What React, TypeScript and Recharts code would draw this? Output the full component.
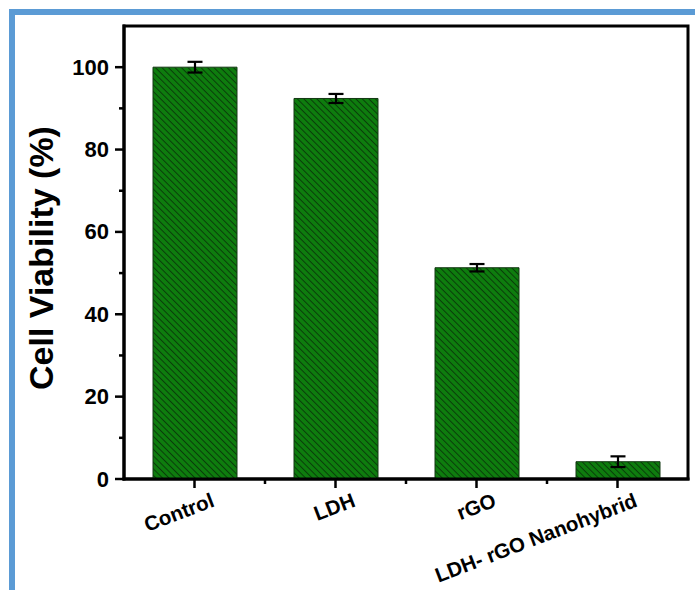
import React from 'react';
import { BarChart, Bar, XAxis, YAxis, ErrorBar, ReferenceArea } from 'recharts';

// Samples, mean viability (%) and standard deviation
const samples = ['Control', 'LDH', 'rGO', 'LDH- rGO Nanohybrid'];
const viability = [100, 92.4, 51.3, 4.2];
const viabilityError = [1.3, 1.1, 0.9, 1.3];

// Y axis: major ticks are labelled, minor ticks sit between them
const yTicks = [0, 10, 20, 30, 40, 50, 60, 70, 80, 90, 100];
const yMajorStep = 20;
const yDomain = [0, 110];

const data = samples.map((name, i) => ({
  name,
  value: viability[i],
  err: viabilityError[i],
}));

const W = 695;
const H = 590;
const Y_AXIS_W = 60;
const X_AXIS_H = 60;
const margin = { top: 26, right: 7, bottom: 51, left: 64 };
const plotW = W - margin.left - margin.right - Y_AXIS_W;
const band = plotW / samples.length;

const FONT = '"Liberation Sans", Arial, Helvetica, sans-serif';
const AXIS = { stroke: '#000', strokeWidth: 3, strokeLinecap: 'square' as const };
const FRAME_BLUE = '#5b9bd5';

function YTick(props: any) {
  const { x, y, payload } = props;
  const major = payload.value % yMajorStep === 0;
  return (
    <g>
      <line x1={x} x2={x - (major ? 9 : 5)} y1={y} y2={y} stroke="#000" strokeWidth={2.5} />
      {major && (
        <text
          x={x - 15}
          y={y}
          textAnchor="end"
          dominantBaseline="central"
          fontSize={22}
          fontWeight="bold"
          fontFamily={FONT}
          fill="#000"
        >
          {payload.value}
        </text>
      )}
    </g>
  );
}

function XTick(props: any) {
  const { x, y, payload } = props;
  const idx = samples.indexOf(payload.value);
  const tx = x + 21;
  const ty = y + 27;
  return (
    <g>
      <line x1={x} x2={x} y1={y} y2={y + 9} stroke="#000" strokeWidth={2.5} />
      {idx < samples.length - 1 && (
        <line x1={x + band / 2} x2={x + band / 2} y1={y} y2={y + 5} stroke="#000" strokeWidth={2.5} />
      )}
      <text
        x={tx}
        y={ty}
        transform={`rotate(-21, ${tx}, ${ty})`}
        textAnchor="end"
        fontSize={20.5}
        fontWeight="bold"
        fontFamily={FONT}
        fill="#000"
      >
        {payload.value}
      </text>
    </g>
  );
}

export default function App() {
  return (
    <div style={{ position: 'absolute', left: 0, top: 0, width: W, height: H, background: '#fff', overflow: 'hidden' }}>
      <div style={{ position: 'absolute', left: 9, top: 9, width: 6, height: H - 9, background: FRAME_BLUE }} />
      <div style={{ position: 'absolute', left: 9, top: 9, width: W - 9, height: 6, background: FRAME_BLUE }} />

      <svg width={0} height={0} style={{ position: 'absolute' }}>
        <defs>
          <pattern
            id="viabilityHatch"
            patternUnits="userSpaceOnUse"
            width={4.6}
            height={4.6}
            patternTransform="rotate(45)"
          >
            <rect width={4.6} height={4.6} fill="#0e7d0e" />
            <line x1={0} x2={4.6} y1={2.3} y2={2.3} stroke="#0a3c0a" strokeWidth={1} />
          </pattern>
        </defs>
      </svg>

      <div style={{ position: 'absolute', left: 0, top: 0 }}>
        <BarChart width={W} height={H} data={data} margin={margin}>
          <XAxis
            dataKey="name"
            height={X_AXIS_H}
            interval={0}
            tickSize={0}
            tickMargin={0}
            tickLine={false}
            axisLine={AXIS}
            tick={<XTick />}
          />
          <YAxis
            width={Y_AXIS_W}
            domain={yDomain}
            ticks={yTicks}
            interval={0}
            tickSize={0}
            tickMargin={0}
            tickLine={false}
            axisLine={AXIS}
            tick={<YTick />}
            label={{
              value: 'Cell Viability (%)',
              angle: -90,
              position: 'insideLeft',
              content: () => (
                <text
                  x={53}
                  y={258}
                  transform="rotate(-90, 53, 258)"
                  textAnchor="middle"
                  fontSize={34}
                  fontWeight="bold"
                  fontFamily={FONT}
                  fill="#000"
                >
                  Cell Viability (%)
                </text>
              ),
            }}
          />
          {/* closed frame around the plot area */}
          <ReferenceArea
            x1={samples[0]}
            x2={samples[samples.length - 1]}
            y1={yDomain[0]}
            y2={yDomain[1]}
            fill="none"
            fillOpacity={0}
            stroke="#000"
            strokeWidth={3}
            strokeOpacity={1}
            ifOverflow="visible"
          />
          <Bar
            dataKey="value"
            barSize={84}
            fill="url(#viabilityHatch)"
            stroke="#123812"
            strokeWidth={1}
            isAnimationActive={false}
          >
            <ErrorBar dataKey="err" direction="y" width={7.5} stroke="#000" strokeWidth={2.2} />
          </Bar>
        </BarChart>
      </div>
    </div>
  );
}
